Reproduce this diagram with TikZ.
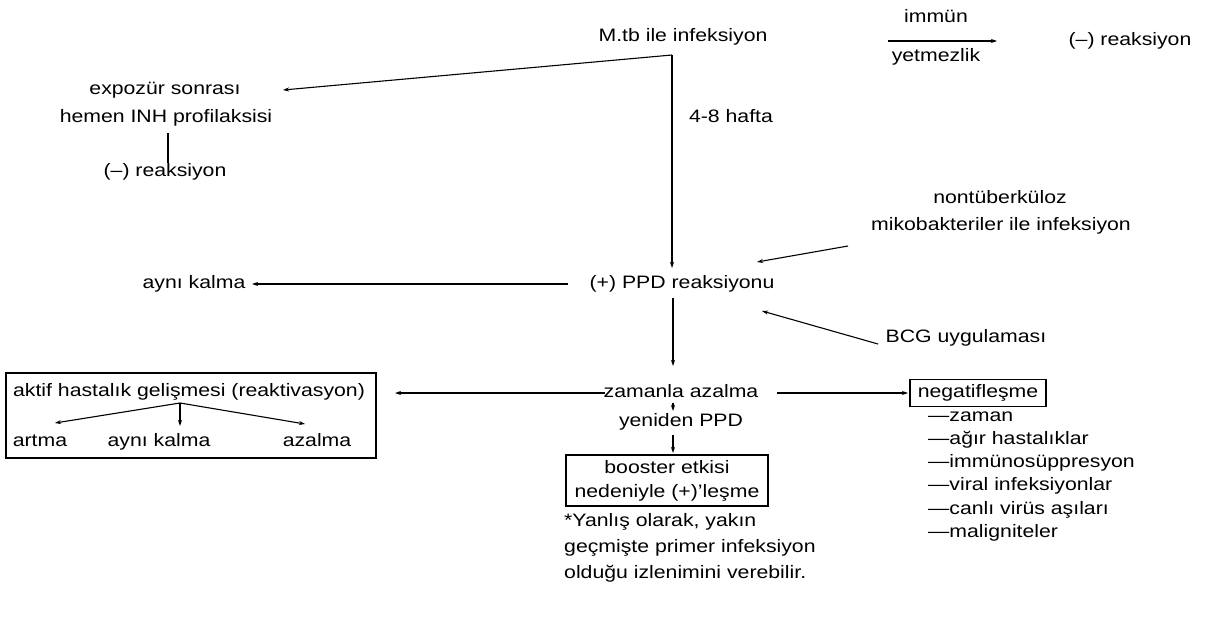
\documentclass[tikz,border=0pt]{standalone}
\usepackage{fontspec}
\setmainfont[FakeStretch=1.18]{Liberation Sans}
\usetikzlibrary{arrows.meta}
\begin{document}
\begin{tikzpicture}[x=1pt,y=-1pt,
  every node/.style={font=\fontsize{18}{22}\selectfont, inner sep=2pt, text height=13pt, text depth=4pt},
  arr/.style={-{Stealth[length=6pt,width=4pt]}, line width=1.1pt},
  ln/.style={line width=1.1pt},
  bx/.style={draw, line width=1.6pt}]
\useasboundingbox (0,0) rectangle (1210,634);
% text nodes
\node (mtb) at (683,37) {M.tb ile infeksiyon};
\node (hafta) at (731,118) {4-8 hafta};
\node (immun) at (936,18) {immün};
\node (yetm) at (936,57) {yetmezlik};
\node (negr) at (1130,41) {(--) reaksiyon};
\node (expo) at (165,90) {expozür sonrası};
\node (inh) at (166,118) {hemen INH profilaksisi};
\node (negl) at (165,172) {(--) reaksiyon};
\node (nontub) at (1000,199) {nontüberküloz};
\node (miko) at (1001,226) {mikobakteriler ile infeksiyon};
\node (ppd) at (682,284) {(+) PPD reaksiyonu};
\node (ayni) at (194,284) {aynı kalma};
\node (bcg) at (966,338) {BCG uygulaması};
\node (zaman) at (681,393) {zamanla azalma};
\node (yen) at (681,422) {yeniden PPD};
% left box
\node[bx, minimum width=370pt, minimum height=85pt] (aktifbox) at (191,415.5) {};
\node (aktif) at (189,392) {aktif hastalık gelişmesi (reaktivasyon)};
\node (artma) at (40,442) {artma};
\node (ak2) at (159,442) {aynı kalma};
\node (azalma) at (317,442) {azalma};
% booster box
\node[bx, align=center, font=\fontsize{18}{24}\selectfont, text height={}, text depth={}, minimum width=202pt, minimum height=51pt] (boost) at (667,480.5) {booster etkisi\\nedeniyle (+)'leşme};
\node[anchor=north west, align=left, font=\fontsize{18}{26}\selectfont, text height={}, text depth={}] (foot) at (562,511) {*Yanlış olarak, yakın\\geçmişte primer infeksiyon\\olduğu izlenimini verebilir.};
% negatif box
\node[draw, line width=1.4pt, minimum width=136pt, minimum height=27pt] (neg) at (978,393) {negatifleşme};
\node[anchor=west] (l1) at (926,417) {---zaman};
\node[anchor=west] (l2) at (926,440) {---ağır hastalıklar};
\node[anchor=west] (l3) at (926,463) {---immünosüppresyon};
\node[anchor=west] (l4) at (926,486) {---viral infeksiyonlar};
\node[anchor=west] (l5) at (926,510) {---canlı virüs aşıları};
\node[anchor=west] (l6) at (926,533) {---maligniteler};
% coordinates
\coordinate (j1) at (672,55);
\coordinate (expoT) at (283,90);
\coordinate (ppdT) at (672,268);
\coordinate (ia) at (888,41);
\coordinate (ib) at (997,41);
\coordinate (mt) at (848,246);
\coordinate (mh) at (757,262);
\coordinate (bt) at (878,344);
\coordinate (bh) at (762,311);
\coordinate (pl) at (568,284);
\coordinate (al) at (252,284);
\coordinate (pd1) at (673,298);
\coordinate (pd2) at (673,366);
\coordinate (zl1) at (605,393);
\coordinate (zl2) at (395,393);
\coordinate (zr1) at (777,393);
\coordinate (zr2) at (908,393);
\coordinate (zy1) at (673,403);
\coordinate (zy2) at (673,411);
\coordinate (yb1) at (673,435);
\coordinate (yb2) at (673,453);
\coordinate (br) at (180,403);
\coordinate (b1) at (55,423);
\coordinate (b2) at (180,426);
\coordinate (b3) at (305,424);
\coordinate (v1) at (168,133);
\coordinate (v2) at (168,163);
% connectors
\draw[arr] (j1) -- (ppdT);
\draw[arr] (j1) -- (expoT);
\draw[arr] (ia) -- (ib);
\draw[ln, line width=1.6pt] (v1) -- (v2);
\draw[arr] (mt) -- (mh);
\draw[arr] (bt) -- (bh);
\draw[arr] (pl) -- (al);
\draw[arr] (pd1) -- (pd2);
\draw[arr] (zl1) -- (zl2);
\draw[arr] (zr1) -- (zr2);
\draw[arr] (zy1) -- (zy2);
\draw[arr] (yb1) -- (yb2);
\draw[arr] (br) -- (b1);
\draw[arr] (br) -- (b2);
\draw[arr] (br) -- (b3);
\end{tikzpicture}
\end{document}
